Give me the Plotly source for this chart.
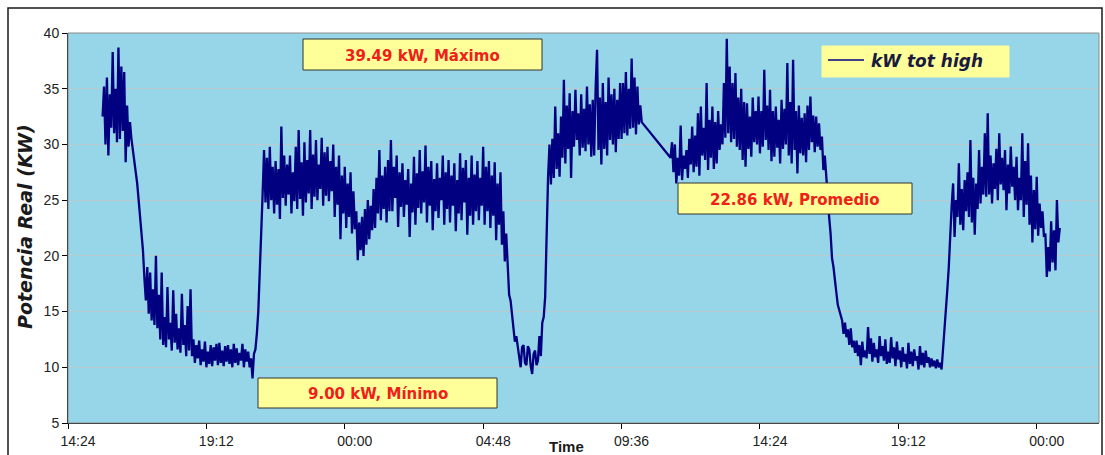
import pandas as pd
import plotly.graph_objects as go

# Total real power, 3-minute readings (kW)
# Block A: 15:36 day 1 -> 10:18 day 2
kw_block_a = [
    32.5, 35.2, 30.0, 36.0, 29.0, 34.5, 31.5, 38.3, 31.0, 35.0, 30.2, 38.7, 30.5, 37.0, 31.2, 36.5, 28.4, 33.5, 29.8, 32.0,
    30.5, 29.5, 29.0, 27.5, 26.5, 25.0, 23.5, 22.0, 20.5, 18.0, 16.0, 19.0, 14.8, 18.5, 14.2, 17.0, 13.8, 20.0, 13.5, 16.5,
    12.5, 18.5, 12.0, 14.5, 11.8, 17.2, 12.5, 14.0, 11.5, 16.9, 12.2, 14.8, 11.6, 13.5, 11.3, 16.6, 12.0, 13.8, 11.0, 15.5,
    11.5, 17.0, 11.0, 12.5, 10.4, 12.0, 10.8, 12.4, 10.2, 11.6, 10.5, 12.3, 10.0, 11.4, 10.3, 12.0, 10.1, 11.8, 10.6, 12.1,
    10.2, 12.2, 10.4, 11.5, 10.1, 11.9, 10.5, 12.0, 10.3, 11.6, 10.0, 12.1, 10.4, 11.7, 10.2, 11.3, 10.6, 12.1, 10.0, 11.6,
    10.5, 11.4, 10.0, 10.8, 9.00, 11.2, 11.6, 13.0, 15.0, 18.5, 23.0, 25.5, 29.5, 24.8, 28.8, 24.2, 29.8, 25.0, 28.0, 23.8,
    28.5, 24.6, 27.8, 23.3, 31.6, 25.2, 29.0, 24.5, 28.2, 25.5, 29.0, 23.8, 27.5, 24.9, 29.8, 24.2, 31.3, 25.1, 28.4, 23.6,
    30.2, 24.8, 28.6, 25.6, 31.3, 24.2, 29.1, 25.3, 30.4, 25.0, 28.2, 26.0, 30.6, 24.5, 29.3, 25.4, 29.8, 24.9, 28.5, 25.8,
    30.0, 23.5, 28.0, 24.6, 29.0, 21.5, 27.2, 23.8, 28.0, 22.5, 26.5, 23.5, 27.5, 22.0, 25.8, 22.4, 24.0, 19.6, 23.0, 20.5,
    23.5, 20.0, 24.2, 21.0, 25.0, 21.5, 24.5, 22.3, 26.0, 22.5, 27.0, 23.8, 29.5, 23.2, 27.2, 24.2, 28.0, 23.0, 28.6, 24.0,
    30.4, 24.0, 28.0, 25.2, 29.0, 22.6, 27.5, 24.4, 28.3, 23.5, 26.8, 24.6, 27.8, 21.7, 26.5, 23.9, 28.9, 22.8, 27.4, 24.3,
    29.5, 23.8, 27.6, 24.8, 29.9, 23.0, 28.0, 24.5, 28.5, 22.3, 26.9, 24.0, 28.3, 23.4, 27.0, 25.0, 29.0, 22.8, 27.5, 24.2,
    28.6, 23.0, 27.2, 24.5, 28.3, 22.2, 26.8, 23.8, 29.2, 23.2, 27.9, 24.8, 28.6, 21.9, 27.0, 23.6, 29.0, 22.8, 27.3, 24.0,
    28.5, 23.2, 27.0, 24.5, 29.8, 22.8, 28.0, 24.0, 28.5, 22.5, 27.2, 23.6, 28.4, 21.4, 26.5, 22.8, 27.5, 21.0, 24.0, 19.5,
    22.0, 18.5, 16.5, 16.0, 14.8, 13.5, 12.3, 12.8, 11.8, 10.6, 10.0, 11.8, 12.0, 10.4, 10.2, 11.9, 11.6, 10.1, 9.4, 11.2,
    11.5, 10.2, 10.6, 12.8, 11.0, 14.0, 14.5, 16.3, 22.0, 27.0, 30.0, 26.4, 30.5, 27.0, 33.4, 27.8, 31.0, 27.1, 32.5, 28.8,
    35.8, 28.3, 33.5, 29.6, 34.6, 27.0, 33.0, 29.8, 34.9, 30.4, 32.8, 29.0, 34.5, 29.7, 33.2, 29.4, 35.2, 30.0, 33.6, 28.9,
    34.0, 29.0, 35.0, 38.5, 29.5, 34.2, 28.2, 35.5, 29.6, 33.8, 29.0, 36.0, 30.4, 34.5, 30.0, 35.0, 29.3, 34.0, 30.5, 35.5,
    30.5, 35.5, 31.0, 36.5, 30.8, 35.0, 31.4, 37.7, 31.5, 36.0, 30.9, 35.2, 31.8, 33.5, 32.0,
]

# Block B: 11:18 day 2 -> 00:48 day 3
kw_block_b = [
    28.8, 30.2, 27.5, 30.0, 26.5, 28.8, 27.2, 31.7, 26.8, 29.0, 27.8, 29.5, 27.0, 30.5, 28.2, 31.6, 27.5, 30.8, 28.0, 32.8,
    27.2, 33.4, 29.0, 31.5, 28.6, 35.5, 27.7, 32.2, 28.8, 33.4, 27.8, 32.0, 28.3, 33.0, 29.5, 31.8, 30.0, 35.5, 30.6, 39.49,
    31.0, 37.0, 30.2, 35.5, 30.5, 36.4, 29.8, 34.2, 29.5, 35.0, 28.6, 33.8, 28.0, 33.7, 29.6, 32.5, 28.9, 34.2, 30.2, 33.0,
    30.0, 34.3, 29.2, 33.0, 29.8, 36.7, 30.4, 33.5, 29.5, 34.9, 28.5, 33.0, 28.9, 33.4, 29.7, 32.2, 28.3, 34.0, 29.6, 33.2,
    30.0, 37.3, 29.0, 33.8, 28.3, 37.6, 29.5, 33.0, 27.4, 33.5, 29.2, 32.4, 29.0, 32.8, 28.4, 33.5, 29.5, 34.3, 30.2, 32.6,
    29.3, 32.5, 29.8, 31.9, 29.5, 30.7, 27.7, 29.0, 26.8, 25.5, 23.5, 22.0, 19.8, 19.0, 17.5, 16.7, 15.6, 15.1, 14.8, 14.2,
    13.0, 14.0, 12.7, 13.4, 12.0, 13.5, 11.8, 12.4, 11.3, 12.4, 11.0, 12.0, 10.2, 12.3, 10.9, 11.5, 10.8, 13.6, 11.2, 12.6,
    10.5, 12.2, 10.9, 11.6, 10.4, 12.8, 11.0, 11.9, 10.6, 12.5, 10.3, 11.4, 10.4, 12.7, 10.8, 11.8, 10.1, 12.3, 10.7, 11.5,
    10.0, 11.8, 10.5, 11.2, 9.9, 12.2, 10.3, 11.4, 10.1, 11.6, 10.6, 11.0, 9.8, 11.9, 10.2, 11.3, 10.0, 11.5, 10.4, 10.9,
    10.0, 10.8, 10.1, 10.6, 9.9, 10.7, 10.0, 10.4, 9.8, 11.5, 12.8, 14.9, 17.0, 19.0, 22.3, 24.5, 26.5, 21.7, 25.0, 23.5,
    28.3, 22.8, 26.0, 22.3, 26.8, 24.0, 27.5, 23.5, 30.4, 23.0, 27.0, 21.9, 26.5, 24.2, 29.5, 24.7, 28.0, 25.5, 31.0, 25.3,
    32.8, 25.5, 29.0, 24.7, 28.3, 26.0, 29.6, 25.0, 31.0, 26.4, 28.8, 25.9, 29.5, 24.1, 28.2, 25.6, 29.8, 26.2, 28.0, 25.0,
    28.9, 24.1, 27.0, 25.0, 31.0, 23.5, 28.5, 24.6, 30.1, 22.8, 27.2, 21.2, 25.9, 22.4, 27.1, 21.8, 24.7, 22.5, 24.0, 21.7,
    22.0, 18.1, 20.8, 18.6, 23.1, 19.4, 22.3, 18.7, 25.0, 21.2, 22.5,
]

block_a_start = "2009-03-02 15:36"
block_b_start = "2009-03-03 11:18"
sample_step = "3min"
axis_start = pd.Timestamp("2009-03-02 14:24")
axis_span_hours = 35.76
tick_step_hours = 4.8
y_ticks = [5, 10, 15, 20, 25, 30, 35, 40]
average_kw = 22.86

t_a = pd.date_range(block_a_start, periods=len(kw_block_a), freq=sample_step)
t_b = pd.date_range(block_b_start, periods=len(kw_block_b), freq=sample_step)
times = list(t_a) + list(t_b)
kw = kw_block_a + kw_block_b

NAVY = "#000080"
BOX_FILL = "#FFFF99"
LABEL_RED = "#EE2018"

fig = go.Figure()
fig.add_trace(go.Scatter(
    x=times, y=kw, mode="lines", name="kW tot high",
    line=dict(color=NAVY, width=2.3),
))

# pixel helpers for layout decorations (plot area 68..1099 x 33..423)
PL, PR, PT, PB = 68, 1099, 33, 423


def px(x):
    return (x - PL) / (PR - PL)


def py(y):
    return (PB - y) / (PB - PT)


shapes = []
annotations = []


def text_box(x0, y0, x1, y1, text, border=True):
    shapes.append(dict(
        type="rect", xref="paper", yref="paper",
        x0=px(x0), x1=px(x1), y0=py(y1), y1=py(y0),
        fillcolor=BOX_FILL,
        line=dict(color="#333333" if border else BOX_FILL, width=1),
        layer="above",
    ))
    if text:
        annotations.append(dict(
            xref="paper", yref="paper", x=px((x0 + x1) / 2), y=py((y0 + y1) / 2 + 1),
            xanchor="center", yanchor="middle", showarrow=False, text=text,
            font=dict(family="DejaVu Sans", size=15, color=LABEL_RED, weight="bold"),
        ))


text_box(303, 39, 542, 70, f"{max(kw):.2f} kW, Máximo")
text_box(678, 183, 912, 214, f"{average_kw:.2f} kW, Promedio")
text_box(258, 378, 497, 408, f"{min(kw):.2f} kW, Mínimo")

# legend
text_box(822, 46, 1009, 77, "", border=False)
shapes.append(dict(type="line", xref="paper", yref="paper",
                   x0=px(828), x1=px(864), y0=py(60), y1=py(60),
                   line=dict(color=NAVY, width=1.5), layer="above"))
annotations.append(dict(
    xref="paper", yref="paper", x=px(869), y=py(61), xanchor="left", yanchor="middle",
    showarrow=False, text="<b><i>kW tot high</i></b>",
    font=dict(family="DejaVu Sans", size=17, color="#1A1A40"),
))

# plot-area border and outer frame
shapes.append(dict(type="rect", xref="paper", yref="paper", x0=0, x1=1, y0=0, y1=1,
                   line=dict(color="#8C8C8C", width=1), layer="above"))
shapes.append(dict(type="rect", xref="paper", yref="paper",
                   x0=px(8), x1=px(1102), y0=py(470), y1=py(8),
                   line=dict(color="#1A1A1A", width=1.5), layer="above"))

# axis titles
annotations.append(dict(
    xref="paper", yref="paper", x=px(25), y=py(227), xanchor="center", yanchor="middle",
    textangle=-90, showarrow=False, text="<b><i>Potencia Real (KW)</i></b>",
    font=dict(family="DejaVu Sans", size=19, color="#1A1A1A"),
))
annotations.append(dict(
    xref="paper", yref="paper", x=px(566), y=py(446), xanchor="center", yanchor="middle",
    showarrow=False, text="<b>Time</b>",
    font=dict(family="Liberation Sans", size=15, color="#1A1A1A"),
))

fig.update_layout(
    width=1105, height=455,
    margin=dict(l=PL, r=1105 - PR, t=PT, b=455 - PB),
    paper_bgcolor="white", plot_bgcolor="#97D5E8",
    showlegend=False,
    shapes=shapes, annotations=annotations,
    font=dict(family="Liberation Sans", size=14, color="#222222"),
)
fig.update_xaxes(
    type="date",
    range=[axis_start, axis_start + pd.Timedelta(hours=axis_span_hours)],
    tick0=axis_start, dtick=tick_step_hours * 3600 * 1000, tickformat="%H:%M",
    ticks="outside", ticklen=5, tickcolor="black", ticklabelshift=10,
    showline=True, linecolor="black", linewidth=1, showgrid=False, zeroline=False,
    tickfont=dict(family="Liberation Sans", size=14, color="#222222"),
)
fig.update_yaxes(
    range=[5, 40], tickvals=y_ticks,
    ticks="outside", ticklen=5, tickcolor="black",
    showline=True, linecolor="black", linewidth=1,
    showgrid=True, gridcolor="#B7CBD1", gridwidth=1, zeroline=False,
    tickfont=dict(family="Liberation Sans", size=14, color="#222222"),
)

fig.write_html("out.html")
